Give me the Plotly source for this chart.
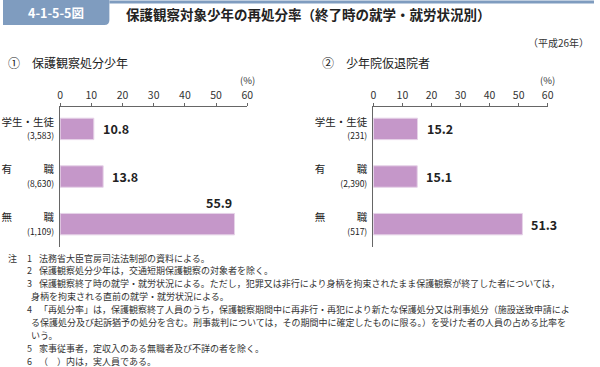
import plotly.graph_objects as go

FONT = "Noto Sans CJK JP"

# Data
categories = ["学生・生徒", "有　　　職", "無　　　職"]
counts_1 = ["(3,583)", "(8,630)", "(1,109)"]
counts_2 = ["(231)", "(2,390)", "(517)"]
rates_1 = [10.8, 13.8, 55.9]
rates_2 = [15.2, 15.1, 51.3]
xticks = [0, 10, 20, 30, 40, 50, 60]

notes = [
    ("注", "1", "法務省大臣官房司法法制部の資料による。"),
    ("", "2", "保護観察処分少年は，交通短期保護観察の対象者を除く。"),
    ("", "3", "保護観察終了時の就学・就労状況による。ただし，犯罪又は非行により身柄を拘束されたまま保護観察が終了した者については，"),
    ("", "", "身柄を拘束される直前の就学・就労状況による。"),
    ("", "4", "「再処分率」は，保護観察終了人員のうち，保護観察期間中に再非行・再犯により新たな保護処分又は刑事処分（施設送致申請によ"),
    ("", "", "る保護処分及び起訴猶予の処分を含む。刑事裁判については，その期間中に確定したものに限る。）を受けた者の人員の占める比率を"),
    ("", "", "いう。"),
    ("", "5", "家事従事者，定収入のある無職者及び不詳の者を除く。"),
    ("", "6", "（　）内は，実人員である。"),
]

W, H = 600, 367
def px(x):
    return x / W
def py(y):
    return 1 - y / H

BAR_COLOR = "#c597c9"
ypos = [0, 1, 2]

fig = go.Figure()
fig.add_trace(go.Bar(x=rates_1, y=ypos, orientation="h", width=0.45,
                     marker=dict(color=BAR_COLOR, line=dict(color="#e6d3e8", width=1)),
                     xaxis="x", yaxis="y", showlegend=False, hoverinfo="x"))
fig.add_trace(go.Bar(x=rates_2, y=ypos, orientation="h", width=0.45,
                     marker=dict(color=BAR_COLOR, line=dict(color="#e6d3e8", width=1)),
                     xaxis="x2", yaxis="y2", showlegend=False, hoverinfo="x"))

ydom = [py(247), py(107)]
def xaxis(dom):
    return dict(domain=dom, range=[0, 60], side="top", tickvals=xticks,
                ticks="outside", ticklen=3, tickcolor="#666", showline=True,
                linecolor="#666", linewidth=1, showgrid=False, zeroline=False,
                tickfont=dict(family=FONT, size=10.5, color="#333"),
                ticklabelstandoff=0, fixedrange=True)

def yaxis(counts, anchor):
    texts = [f"{c}<br><span style='font-size:8.5px'>{n}</span>" for c, n in zip(categories, counts)]
    return dict(domain=ydom, range=[2.48, -0.46], tickvals=ypos, ticktext=texts,
                showline=True, linecolor="#666", linewidth=1, ticks="",
                showgrid=False, zeroline=False, anchor=anchor,
                tickfont=dict(family=FONT, size=10.5, color="#222"),
                ticklabelstandoff=3, fixedrange=True)

fig.update_layout(
    width=W, height=H, margin=dict(l=0, r=0, t=0, b=0),
    paper_bgcolor="white", plot_bgcolor="white",
    xaxis=dict(**xaxis([px(58), px(248)]), anchor="y"),
    yaxis=yaxis(counts_1, "x"),
    xaxis2=dict(**xaxis([px(376), px(553)]), anchor="y2"),
    yaxis2=yaxis(counts_2, "x2"),
    font=dict(family=FONT),
)

ann = []
# value labels
for xa, ya, vals in (("x", "y", rates_1), ("x2", "y2", rates_2)):
    for i, v in enumerate(vals):
        if v > 55:
            ann.append(dict(x=v, y=i, xref=xa, yref=ya, text=f"<b>{v:.1f}</b>",
                            showarrow=False, xanchor="right", yanchor="bottom",
                            yshift=10, font=dict(family=FONT, size=12.5, color="#222")))
        else:
            ann.append(dict(x=v, y=i, xref=xa, yref=ya, text=f"<b>{v:.1f}</b>",
                            showarrow=False, xanchor="left", xshift=7,
                            font=dict(family=FONT, size=12.5, color="#222")))
# (%) labels
for x in (248, 553):
    ann.append(dict(x=px(x), y=py(80), xref="paper", yref="paper", text="(%)",
                    showarrow=False, xanchor="center", yanchor="middle",
                    font=dict(family=FONT, size=9.5, color="#333")))
# titles
ann.append(dict(x=px(54), y=py(13), xref="paper", yref="paper", text="<b>4-1-5-5図</b>",
                showarrow=False, xanchor="center", yanchor="middle",
                font=dict(family=FONT, size=12.5, color="white")))
ann.append(dict(x=px(123), y=py(14), xref="paper", yref="paper",
                text="<b>保護観察対象少年の再処分率（終了時の就学・就労状況別）</b>",
                showarrow=False, xanchor="left", yanchor="middle",
                font=dict(family=FONT, size=13.5, color="#222")))
ann.append(dict(x=px(597), y=py(42), xref="paper", yref="paper", text="（平成26年）",
                showarrow=False, xanchor="right", yanchor="middle",
                font=dict(family=FONT, size=10, color="#333")))
ann.append(dict(x=px(3), y=py(62), xref="paper", yref="paper", text="①　保護観察処分少年",
                showarrow=False, xanchor="left", yanchor="middle",
                font=dict(family=FONT, size=12, color="#222")))
ann.append(dict(x=px(322), y=py(62), xref="paper", yref="paper", text="②　少年院仮退院者",
                showarrow=False, xanchor="left", yanchor="middle",
                font=dict(family=FONT, size=12, color="#222")))
# notes
y0, dy = 258, 12.9
for k, (a, n, t) in enumerate(notes):
    yy = py(y0 + k * dy)
    if a:
        ann.append(dict(x=px(3), y=yy, xref="paper", yref="paper", text=a, showarrow=False,
                        xanchor="left", yanchor="middle", font=dict(family=FONT, size=9, color="#333")))
    if n:
        ann.append(dict(x=px(22), y=yy, xref="paper", yref="paper", text=n, showarrow=False,
                        xanchor="left", yanchor="middle", font=dict(family=FONT, size=9, color="#333")))
        ann.append(dict(x=px(35), y=yy, xref="paper", yref="paper", text=t, showarrow=False,
                        xanchor="left", yanchor="middle", font=dict(family=FONT, size=9, color="#333")))
    else:
        ann.append(dict(x=px(26), y=yy, xref="paper", yref="paper", text=t, showarrow=False,
                        xanchor="left", yanchor="middle", font=dict(family=FONT, size=9, color="#333")))
fig.update_layout(annotations=ann)

fig.update_layout(shapes=[
    dict(type="path", xref="paper", yref="paper",
         path=f"M 0 {py(0)} L {px(108)} {py(0)} L {px(108)} {py(20)} Q {px(108)} {py(25)} {px(103)} {py(25)} L 0 {py(25)} Z",
         fillcolor="#7f9cbf", line=dict(width=0)),
    dict(type="line", xref="paper", yref="paper", x0=px(108), x1=1, y0=py(2), y1=py(2),
         line=dict(color="#7f9cbf", width=3)),
])

fig.write_html("out.html", config={"displayModeBar": False},
               post_script="document.body.style.margin='0';document.body.style.overflow='hidden';")
